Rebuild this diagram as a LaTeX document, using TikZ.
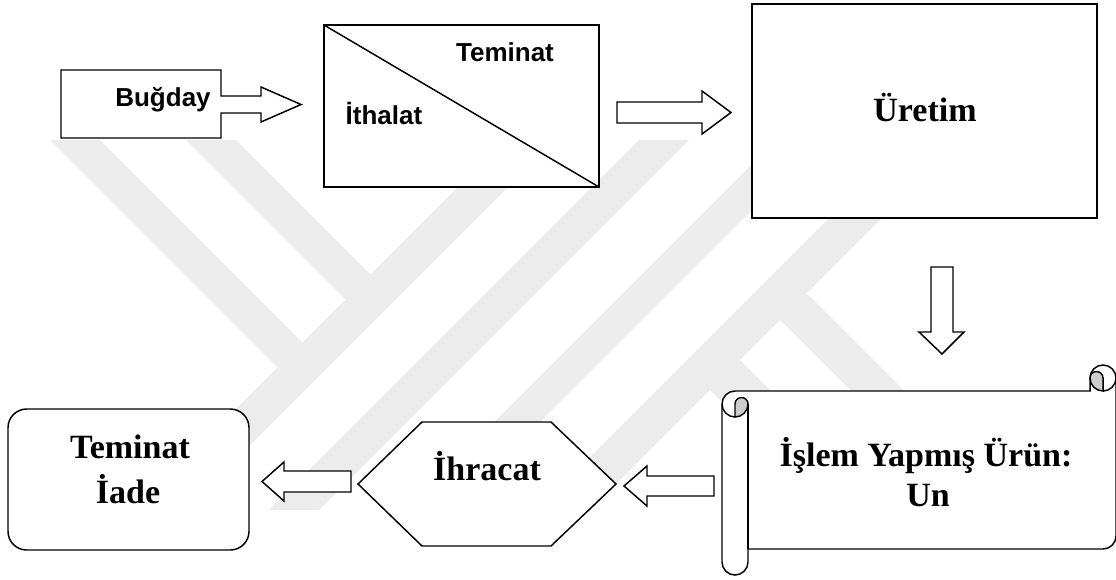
\documentclass[tikz,border=0pt]{standalone}
\usepackage{fontspec}
\newfontfamily\sansb{Liberation Sans}
\newfontfamily\serifb{Liberation Serif}
\definecolor{wmgrey}{RGB}{236,236,236}
\definecolor{curlgrey}{RGB}{205,205,205}
\begin{document}
\begin{tikzpicture}[x=0.75pt,y=-0.75pt,
  outl/.style={draw=black,line width=1.1pt,fill=white,line join=miter},
  thinline/.style={draw=black,line width=1.1pt},
  wm/.style={fill=wmgrey},
  curl/.style={fill=curlgrey,draw=black,line width=1.1pt},
  stxt/.style={font=\sansb\bfseries\fontsize{19.5}{23}\selectfont,anchor=base,inner sep=0pt},
  rtxt/.style={font=\serifb\bfseries\fontsize{25.5}{30}\selectfont,anchor=base,inner sep=0pt}]
\useasboundingbox (0,0) rectangle (1116,579);
\fill[white] (0,0) rectangle (1116,579);
% watermark
\begin{scope}
\clip (0,140) rectangle (1116,510);
\fill[wm] (50,140) -- (100,140) -- (302.5,342.5) -- (277.5,367.5) -- cycle;
\fill[wm] (186,140) -- (236,140) -- (370.5,274.5) -- (345.5,299.5) -- cycle;
\fill[wm] (505,140) -- (555,140) -- (185,510) -- (135,510) -- cycle;
\fill[wm] (639,140) -- (689,140) -- (319,510) -- (269,510) -- cycle;
\fill[wm] (776,140) -- (822,140) -- (452,510) -- (406,510) -- cycle;
\fill[wm] (907,140) -- (960,140) -- (590,510) -- (537,510) -- cycle;
\fill[wm] (806.5,293.5) -- (1023,510) -- (970,510) -- (780,320) -- cycle;
\fill[wm] (740,360) -- (890,510) -- (830,510) -- (710,390) -- cycle;
\end{scope}
% Bugday callout
\draw[outl] (61,70) -- (221,70) -- (221,96) -- (261,96) -- (261,87) -- (301,104.5)
  -- (261,122) -- (261,113) -- (221,113) -- (221,138) -- (61,138) -- cycle;
\node[stxt] (bugday) at (163,106) {Buğday};
% Ithalat / Teminat box
\draw[outl] (324,25) rectangle (599,187);
\coordinate (diagA) at (324,25);
\coordinate (diagB) at (599,187);
\draw[thinline] (diagA) -- (diagB);
\node[stxt] (teminatS) at (505,61) {Teminat};
\node[stxt] (ithalat) at (384,124) {İthalat};
% arrow to Uretim
\draw[outl] (617,102) -- (702,102) -- (702,91) -- (731,112.5) -- (702,134) -- (702,123) -- (617,123) -- cycle;
% Uretim
\draw[outl] (752,4) rectangle (1097,218);
\node[rtxt] (uretim) at (925,121) {Üretim};
% down arrow
\draw[outl] (931,267) -- (953,267) -- (953,332) -- (964,332) -- (942,354) -- (919,332) -- (931,332) -- cycle;
% scroll
\draw[outl] (722,404) arc[start angle=180,end angle=270,radius=13]
  -- (1090,391) -- (1090,378) arc[start angle=180,end angle=360,radius=13]
  -- (1116,536) arc[start angle=0,end angle=90,radius=13]
  -- (748,549) -- (748,562) arc[start angle=0,end angle=180,radius=13] -- cycle;
\draw[curl] (735,417) arc[start angle=90,end angle=0,radius=13]
  arc[start angle=0,end angle=-180,radius=6.5] -- cycle;
\draw[thinline] (748,404) -- (748,549);
\draw[thinline] (735,417) arc[start angle=90,end angle=180,radius=13];
\draw[curl] (1103,391) arc[start angle=90,end angle=180,radius=13]
  arc[start angle=180,end angle=360,radius=6.5] -- cycle;
\draw[thinline] (1103,391) arc[start angle=90,end angle=0,radius=13];
\node[rtxt] (islem) at (926,466) {İşlem Yapmış Ürün:};
\node[rtxt] (un) at (928,506) {Un};
% arrow scroll -> hexagon
\draw[outl] (714,476) -- (647,476) -- (647,466) -- (624,486) -- (647,506) -- (647,496) -- (714,496) -- cycle;
% hexagon
\draw[outl] (358,484) -- (422,422) -- (551,422) -- (616,484) -- (551,546) -- (422,546) -- cycle;
\node[rtxt] (ihracat) at (487,480) {İhracat};
% arrow hexagon -> teminat iade
\draw[outl] (351,471) -- (284,471) -- (284,462) -- (262,481.5) -- (284,501) -- (284,492) -- (351,492) -- cycle;
% Teminat Iade
\draw[outl,rounded corners=14pt] (8,409) rectangle (249,550);
\node[rtxt] (teminatR) at (130,458) {Teminat};
\node[rtxt] (iade) at (128,503) {İade};
\end{tikzpicture}
\end{document}
